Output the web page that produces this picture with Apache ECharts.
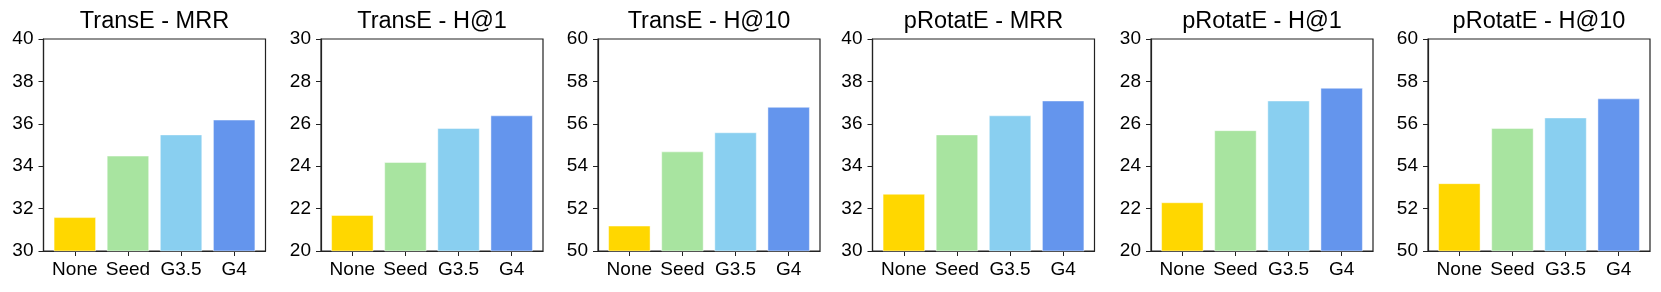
<!DOCTYPE html>
<html>
<head>
<meta charset="utf-8">
<script src="https://cdn.jsdelivr.net/npm/echarts@6/dist/echarts.min.js"></script>
<style>html,body{margin:0;padding:0;background:#fff}#c{width:1661px;height:292px}</style>
</head>
<body>
<div id="c"></div>
<script>
const categories = ['None', 'Seed', 'G3.5', 'G4'];
const barColors = ['#FFD700', '#A8E4A0', '#89CFF0', '#6495ED'];
const titles = ['TransE - MRR', 'TransE - H@1', 'TransE - H@10', 'pRotatE - MRR', 'pRotatE - H@1', 'pRotatE - H@10'];
const transeMRR = [31.6, 34.5, 35.5, 36.2];
const transeH1 = [21.7, 24.2, 25.8, 26.4];
const transeH10 = [51.2, 54.7, 55.6, 56.8];
const protateMRR = [32.7, 35.5, 36.4, 37.1];
const protateH1 = [22.3, 25.7, 27.1, 27.7];
const protateH10 = [53.2, 55.8, 56.3, 57.2];
const yMins = [30, 20, 50, 30, 20, 50];
const yMaxs = [40, 30, 60, 40, 30, 60];
const seriesValues = [transeMRR, transeH1, transeH10, protateMRR, protateH1, protateH10];

const gridLefts = [43.5, 321, 598, 872.5, 1151, 1428];
const gridWidth = 222;
const gridTop = 39, gridHeight = 212;
const font = "'Liberation Sans', Arial, Helvetica, sans-serif";

const option = {
  animation: false,
  backgroundColor: '#fff',
  title: [], grid: [], xAxis: [], yAxis: [], series: []
};
seriesValues.forEach((vals, k) => {
  option.title.push({
    text: titles[k], left: gridLefts[k] + gridWidth / 2, top: 9.5, textAlign: 'center', padding: 0,
    textStyle: { fontFamily: font, fontSize: 23.5, fontWeight: 'normal', color: '#000', lineHeight: 23.5 }
  });
  option.grid.push({
    left: gridLefts[k], top: gridTop, width: gridWidth, height: gridHeight,
    show: true, borderColor: '#222', borderWidth: 1.2, backgroundColor: 'transparent'
  });
  option.xAxis.push({
    type: 'value', gridIndex: k, min: -0.59, max: 3.59,
    splitLine: { show: false },
    axisLine: { show: true, onZero: false, lineStyle: { color: '#222', width: 1.2 } },
    axisTick: { show: true, inside: false, length: 5, customValues: [0, 1, 2, 3], lineStyle: { color: '#222', width: 1 } },
    axisLabel: { show: true, margin: 9, customValues: [0, 1, 2, 3], formatter: v => categories[Math.round(v)],
      fontFamily: font, fontSize: 19, color: '#000' }
  });
  option.yAxis.push({
    type: 'value', gridIndex: k, min: yMins[k], max: yMaxs[k], interval: 2,
    splitLine: { show: false },
    axisLine: { show: true, onZero: false, lineStyle: { color: '#222', width: 1.2 } },
    axisTick: { show: true, inside: false, length: 5, lineStyle: { color: '#222', width: 1 } },
    axisLabel: { margin: 10, fontFamily: font, fontSize: 19, color: '#000' }
  });
  option.series.push({
    type: 'bar', xAxisIndex: k, yAxisIndex: k, barWidth: '80%',
    data: vals.map((v, i) => [i, v]),
    itemStyle: { color: p => barColors[p.dataIndex], borderColor: 'rgba(255,255,255,0.45)', borderWidth: 1 }
  });
});
echarts.init(document.getElementById('c')).setOption(option);
</script>
</body>
</html>
